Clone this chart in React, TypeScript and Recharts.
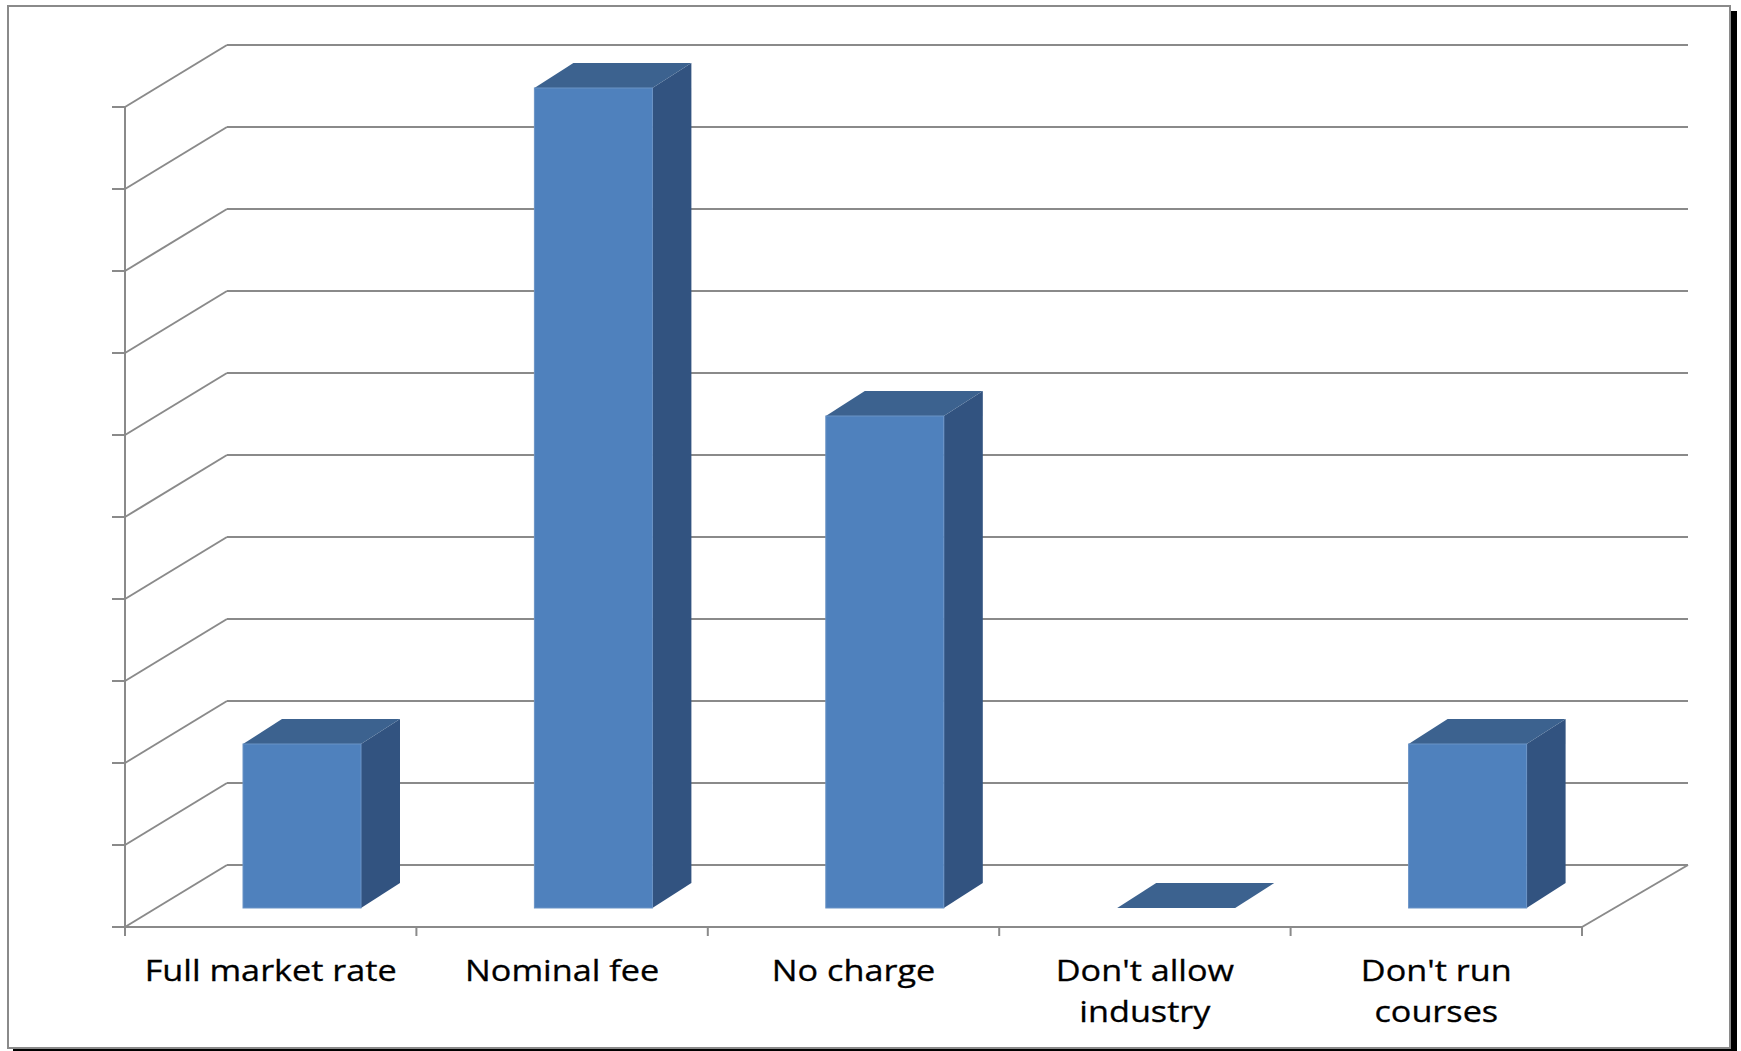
import React from "react";
import { BarChart, Bar, XAxis, YAxis, CartesianGrid } from "recharts";

// chart data
const categories = [
  "Full market rate",
  "Nominal fee",
  "No charge",
  "Don't allow industry",
  "Don't run courses",
];
const counts = [2, 10, 6, 0, 2];
const labelLines = [
  ["Full market rate"],
  ["Nominal fee"],
  ["No charge"],
  ["Don't allow", "industry"],
  ["Don't run", "courses"],
];
const yTicks = [0, 1, 2, 3, 4, 5, 6, 7, 8, 9, 10];

const data = categories.map((name, i) => ({ name, count: counts[i] }));

// layout
const W = 1720;
const H = 1040;
const MARGIN = { top: 81, right: 116, bottom: 109, left: 147 };
const X_AXIS_H = 30;
const PLOT_BOTTOM = H - MARGIN.bottom - X_AXIS_H;
const PLOT_W = W - MARGIN.left - MARGIN.right;
const BAND = PLOT_W / categories.length;

// fake 3d offsets
const FRONT_DX = -31; // front floor edge relative to bar plane
const FRONT_DY = 19;
const BACK_DX_L = 71; // back wall relative to bar plane
const BACK_DX_R = 75;
const BACK_DY = -43;
const BOX_DX = 39;
const BOX_DY = 25;

const GRID = "#8a8a8a";
const FRONT = "#4f81bd";
const SIDE = "#325380";
const TOP = "#3c628f";

const GridLine = (props: any) => {
  const { x1, x2, y1 } = props;
  const y = y1;
  const isFloor = Math.abs(y - PLOT_BOTTOM) < 0.5;
  const fx = x1 + FRONT_DX;
  const fy = y + FRONT_DY;
  return (
    <g>
      <line x1={x1 + BACK_DX_L} y1={y + BACK_DY} x2={x2 + BACK_DX_R} y2={y + BACK_DY} stroke={GRID} strokeWidth={2} />
      <line x1={fx} y1={fy} x2={x1 + BACK_DX_L} y2={y + BACK_DY} stroke={GRID} strokeWidth={2} />
      <line x1={fx - 13} y1={fy} x2={fx} y2={fy} stroke={GRID} strokeWidth={2} />
      {isFloor && (
        <>
          <line x1={fx} y1={fy} x2={x2 + FRONT_DX} y2={fy} stroke={GRID} strokeWidth={2} />
          <line x1={x2 + FRONT_DX} y1={fy} x2={x2 + BACK_DX_R} y2={y + BACK_DY} stroke={GRID} strokeWidth={2} />
          <line x1={fx} y1={MARGIN.top + FRONT_DY} x2={fx} y2={fy + 9} stroke={GRID} strokeWidth={2} />
        </>
      )}
    </g>
  );
};

const Box3D = (props: any) => {
  const { x, y, width, height } = props;
  const r = x + width;
  const b = y + height;
  return (
    <g>
      {height > 0 && (
        <polygon
          points={`${r},${y} ${r + BOX_DX},${y - BOX_DY} ${r + BOX_DX},${b - BOX_DY} ${r},${b}`}
          fill={SIDE}
        />
      )}
      <polygon
        points={`${x},${y} ${x + BOX_DX},${y - BOX_DY} ${r + BOX_DX},${y - BOX_DY} ${r},${y}`}
        fill={TOP}
      />
      {height > 0 && <rect x={x} y={y} width={width} height={height} fill={FRONT} stroke="#6a93c6" strokeWidth={1} />}
    </g>
  );
};

const CategoryTick = (props: any) => {
  const { x, index } = props;
  const cx = x + FRONT_DX;
  const floorY = PLOT_BOTTOM + FRONT_DY;
  const lines = labelLines[index] || [];
  return (
    <g>
      <line x1={cx - BAND / 2} y1={floorY} x2={cx - BAND / 2} y2={floorY + 9} stroke={GRID} strokeWidth={2} />
      {index === categories.length - 1 && (
        <line x1={cx + BAND / 2} y1={floorY} x2={cx + BAND / 2} y2={floorY + 9} stroke={GRID} strokeWidth={2} />
      )}
      <g transform={`translate(${cx},${PLOT_BOTTOM + 73}) scale(1.18,1)`}>
        <text textAnchor="middle" fontFamily="'Open Sans', sans-serif" fontSize={29} fill="#000" stroke="#000" strokeWidth={0.3}>
          {lines.map((l: string, i: number) => (
            <tspan key={i} x={0} dy={i === 0 ? 0 : 41}>
              {l}
            </tspan>
          ))}
        </text>
      </g>
    </g>
  );
};

export default function App() {
  return (
    <div
      style={{
        position: "absolute",
        left: 7,
        top: 5,
        width: W,
        height: H,
        border: "2px solid #8a8a8a",
        boxShadow: "6px 6px 0 #000",
        background: "#fff",
      }}
    >
      <BarChart width={W} height={H} data={data} margin={MARGIN}>
        <CartesianGrid vertical={false} horizontal={GridLine} />
        <XAxis
          dataKey="name"
          axisLine={false}
          tickLine={false}
          interval={0}
          height={X_AXIS_H}
          tick={CategoryTick}
        />
        <YAxis hide domain={[0, 10]} ticks={yTicks} />
        <Bar dataKey="count" barSize={118} shape={Box3D} isAnimationActive={false} />
      </BarChart>
    </div>
  );
}
